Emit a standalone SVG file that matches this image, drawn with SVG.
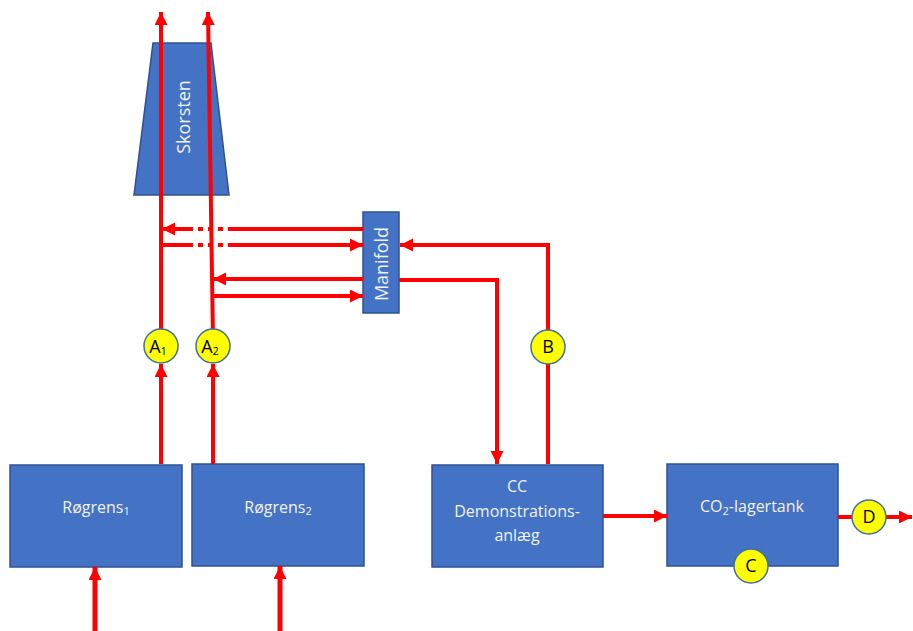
<svg xmlns="http://www.w3.org/2000/svg" width="913" height="631" viewBox="0 0 913 631">
<style>
.box{fill:#4472C4;stroke:#2F528F;stroke-width:1.5}
.lbl{font-family:"Open Sans","Liberation Sans",sans-serif;font-size:16px;fill:#F2F2F2;text-anchor:middle}
.big{font-size:18px}
.ln{stroke:#FF0000;stroke-width:4;fill:none}
.circ{fill:#FFFF00;stroke:#41719C;stroke-width:1.5}
.ct{font-family:"Open Sans","Liberation Sans",sans-serif;font-size:18px;fill:#000;text-anchor:middle}
.sub{font-size:11px}
</style>
<defs>
<marker id="ah" markerUnits="userSpaceOnUse" markerWidth="14" markerHeight="14" refX="13" refY="6.5" orient="auto">
<path d="M0,0 L13,6.5 L0,13 z" fill="#FF0000"/>
</marker>
</defs>
<rect width="913" height="631" fill="#FFFFFF"/>

<g id="skorsten">
<polygon class="box" points="153,43 211,43 229,195 134,195"/>
<text class="lbl big" transform="translate(190,117) rotate(-90)">Skorsten</text>
</g>

<g id="manifold">
<rect class="box" x="363" y="212" width="36" height="101"/>
<text class="lbl big" transform="translate(388,264) rotate(-90)">Manifold</text>
</g>

<g id="rogrens1">
<rect class="box" x="10" y="465" width="172" height="102"/>
<text class="lbl" x="96" y="513">Røgrens<tspan class="sub" dy="2">1</tspan></text>
</g>

<g id="rogrens2">
<rect class="box" x="192" y="464" width="172" height="102"/>
<text class="lbl" x="278" y="513">Røgrens<tspan class="sub" dy="2">2</tspan></text>
</g>

<g id="cc">
<rect class="box" x="432" y="465" width="171" height="102"/>
<text class="lbl" x="517" y="492">CC</text>
<text class="lbl" x="517" y="517">Demonstrations-</text>
<text class="lbl" x="517" y="541">anlæg</text>
</g>

<g id="co2tank">
<rect class="box" x="667" y="464" width="171" height="102"/>
<text class="lbl" x="752" y="512">CO<tspan class="sub" dy="3">2</tspan><tspan dy="-3">-lagertank</tspan></text>
</g>

<g id="connectors">
<line class="ln" x1="161" y1="340" x2="161" y2="12" marker-end="url(#ah)"/>
<line class="ln" x1="213" y1="340" x2="208" y2="12" marker-end="url(#ah)"/>
<line class="ln" x1="161" y1="464" x2="161" y2="364" marker-end="url(#ah)"/>
<line class="ln" x1="213" y1="464" x2="213" y2="364" marker-end="url(#ah)"/>
<line class="ln" style="stroke-width:5" x1="95" y1="631" x2="95" y2="567" marker-end="url(#ah)"/>
<line class="ln" style="stroke-width:5" x1="280" y1="631" x2="280" y2="566" marker-end="url(#ah)"/>
<line class="ln" x1="228" y1="229" x2="363" y2="229"/>
<line class="ln" x1="223" y1="229" x2="218" y2="229"/>
<line class="ln" x1="213" y1="229" x2="208" y2="229"/>
<line class="ln" x1="203" y1="229" x2="198" y2="229"/>
<line class="ln" x1="193" y1="229" x2="162" y2="229" marker-end="url(#ah)"/>
<line class="ln" x1="161" y1="245" x2="193" y2="245"/>
<line class="ln" x1="198" y1="245" x2="203" y2="245"/>
<line class="ln" x1="208" y1="245" x2="213" y2="245"/>
<line class="ln" x1="218" y1="245" x2="223" y2="245"/>
<line class="ln" x1="228" y1="245" x2="363" y2="245" marker-end="url(#ah)"/>
<line class="ln" x1="363" y1="279" x2="213" y2="279" marker-end="url(#ah)"/>
<line class="ln" x1="212" y1="296" x2="363" y2="296" marker-end="url(#ah)"/>
<polyline class="ln" points="548,464 548,245 400,245" marker-end="url(#ah)"/>
<polyline class="ln" points="399,280 497,280 497,464" marker-end="url(#ah)"/>
<line class="ln" x1="603" y1="516" x2="667" y2="516" marker-end="url(#ah)"/>
<line class="ln" x1="838" y1="517" x2="912" y2="517" marker-end="url(#ah)"/>
</g>

<g id="A1">
<circle class="circ" cx="161" cy="346" r="17"/>
<text class="ct" x="158" y="353">A<tspan class="sub" dy="2">1</tspan></text>
</g>
<g id="A2">
<circle class="circ" cx="213" cy="346" r="17"/>
<text class="ct" x="210" y="353">A<tspan class="sub" dy="2">2</tspan></text>
</g>
<g id="B">
<circle class="circ" cx="548" cy="347" r="17"/>
<text class="ct" x="548" y="353">B</text>
</g>
<g id="C">
<circle class="circ" cx="751" cy="566" r="17"/>
<text class="ct" x="751" y="572">C</text>
</g>
<g id="D">
<circle class="circ" cx="869" cy="517" r="17"/>
<text class="ct" x="869" y="523">D</text>
</g>
</svg>
